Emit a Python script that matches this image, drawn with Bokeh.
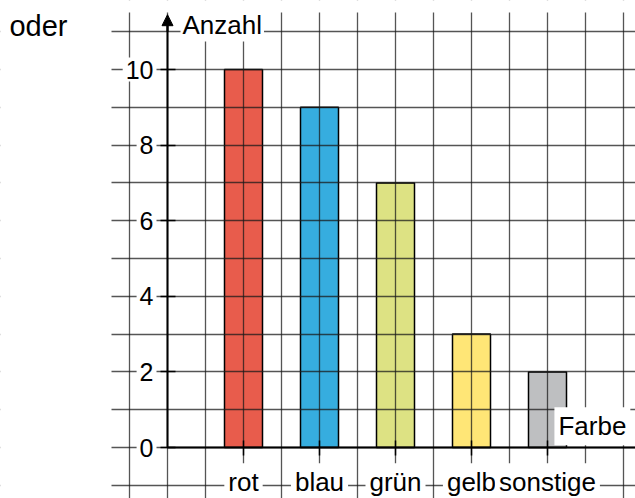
from bokeh.plotting import figure
from bokeh.models import (Range1d, FixedTicker, Label, Arrow, NormalHead,
                          ColumnDataSource, CustomJSTickFormatter, BoxAnnotation)
from bokeh.core.properties import value
from bokeh.embed import file_html
from bokeh.resources import INLINE

# ---------------- data ----------------
categories = ["rot", "blau", "grün", "gelb", "sonstige"]
counts = [10, 9, 7, 3, 2]
bar_colors = ["#E85C4C", "#36ADDF", "#DDE283", "#FFE676", "#BEBFC1"]
y_ticks = [0, 2, 4, 6, 8, 10]
y_tick_labels = ["0", "2", "4", "6", "8", "10"]
y_axis_title = "Anzahl"
x_axis_title = "Farbe"
prefix_text = "oder"

# ---------------- layout constants ----------------
FONT = "Liberation Sans"
W, H = 635, 498
PX_X = 38.0      # pixels per grid unit (x)
PX_Y = 37.8      # pixels per grid unit (y)
ORIGIN_X, ORIGIN_Y = 167, 447   # canvas position of the origin
cat_step = 2     # categories sit on every second grid line
xpos = [cat_step * (i + 1) for i in range(len(categories))]

x_start, x_end = -ORIGIN_X / PX_X, (W - ORIGIN_X) / PX_X
y_start, y_end = -(H - ORIGIN_Y) / PX_Y, ORIGIN_Y / PX_Y
grid_left = -(ORIGIN_X - 111) / PX_X
grid_top = (ORIGIN_Y - 12) / PX_Y

p = figure(width=W, height=H,
           x_range=Range1d(x_start, x_end), y_range=Range1d(y_start, y_end),
           output_backend="svg", toolbar_location=None,
           min_border_left=0, min_border_right=0,
           min_border_top=0, min_border_bottom=0)
p.background_fill_color = "white"
p.border_fill_color = "white"
p.outline_line_color = None

# ---------------- grid (drawn over the bars) ----------------
p.xgrid.ticker = FixedTicker(ticks=list(range(-1, 13)))
p.ygrid.ticker = FixedTicker(ticks=list(range(-1, 12)))
p.xgrid.bounds = (x_start, x_end)
p.ygrid.bounds = (y_start, y_end)
for g in (p.xgrid, p.ygrid):
    g.grid_line_color = "#1a1a1a"
    g.grid_line_alpha = 0.74
    g.grid_line_width = 1.3

# ---------------- bars ----------------
src = ColumnDataSource(dict(x=xpos, top=counts, color=bar_colors, cat=categories))
p.vbar(x="x", top="top", bottom=0, width=1, source=src,
       fill_color="color", line_color="black", line_width=1.5, level="image")

# ---------------- axes through the origin ----------------
empty = CustomJSTickFormatter(code="return ''")

yax = p.yaxis[0]
yax.fixed_location = 0
yax.ticker = FixedTicker(ticks=y_ticks)
yax.bounds = (0, 11.2)
yax.formatter = empty
yax.axis_line_width = 2
yax.axis_line_color = "black"
yax.major_tick_line_width = 1.5
yax.major_tick_in = 8
yax.major_tick_out = 7
yax.minor_tick_line_color = None

xax = p.xaxis[0]
xax.fixed_location = 0
xax.ticker = FixedTicker(ticks=xpos)
xax.bounds = (0, x_end)
xax.formatter = empty
xax.axis_line_width = 2
xax.axis_line_color = "black"
xax.major_tick_line_width = 1.5
xax.major_tick_in = 7
xax.major_tick_out = 8
xax.minor_tick_line_color = None

p.add_layout(Arrow(end=NormalHead(size=11, fill_color="black", line_color="black", line_width=1),
                   x_start=0, y_start=11.0, x_end=0, y_end=11.45,
                   line_width=2, line_color="black"))

# white masks: the grid paper starts a little right/below the canvas edges
p.add_layout(BoxAnnotation(right=grid_left, fill_color="white", fill_alpha=1.0, line_color=None))
p.add_layout(BoxAnnotation(bottom=grid_top, fill_color="white", fill_alpha=1.0, line_color=None))

# ---------------- tick labels with white boxes ----------------
ytl = ColumnDataSource(dict(x=[0] * len(y_ticks), y=y_ticks, t=y_tick_labels))
p.text(x="x", y="y", text="t", source=ytl, x_offset=-11,
       text_font=value(FONT), text_font_size="25px", text_color="black",
       text_align="right", text_baseline="middle",
       background_fill_color="white", padding=3)

label_row = -0.92
xtl = ColumnDataSource(dict(x=xpos, y=[label_row] * len(xpos), t=categories))
p.text(x="x", y="y", text="t", source=xtl,
       text_font=value(FONT), text_font_size="26px", text_color="black",
       text_align="center", text_baseline="middle",
       background_fill_color="white", padding=4)

# axis titles
p.text(x=[0], y=[11.19], text=[y_axis_title], x_offset=13,
       text_font=value(FONT), text_font_size="26px", text_color="black",
       text_align="left", text_baseline="alphabetic",
       background_fill_color="white", padding=2)
p.text(x=[12.18], y=[0.56], text=[x_axis_title],
       text_font=value(FONT), text_font_size="26px", text_color="black",
       text_align="right", text_baseline="alphabetic",
       background_fill_color="white", padding=4)

p.add_layout(Label(x=-4.16, y=11.14, text=prefix_text, text_font=FONT,
                   text_font_size="29px", text_color="black",
                   text_baseline="alphabetic"))

open("out.html", "w").write(file_html(p, INLINE))
